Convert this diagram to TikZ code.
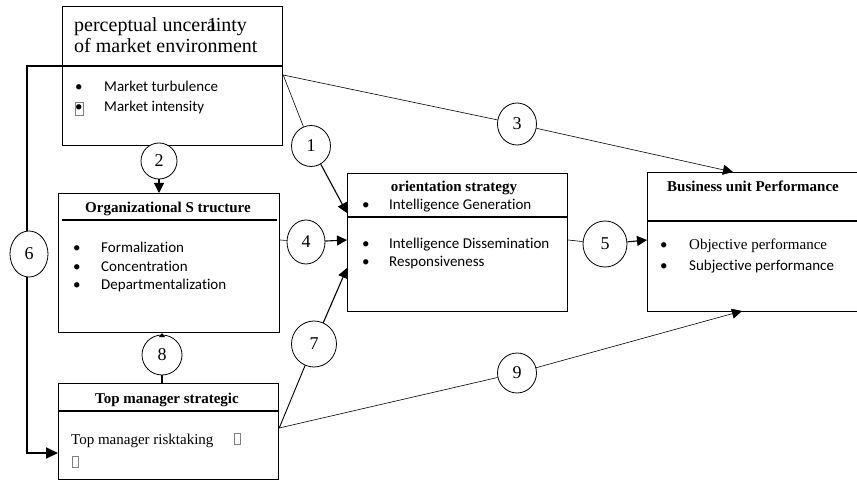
\documentclass[tikz,border=0pt]{standalone}
\usepackage{fontspec}
\setmainfont{Liberation Serif}
\newfontfamily\calfont[Ligatures=NoCommon]{Carlito}
\usetikzlibrary{arrows.meta,shapes.geometric}
\begin{document}
\begin{tikzpicture}[x=1pt,y=-1pt,
  box/.style={draw,line width=1.2pt,anchor=north west,inner sep=0pt},
  num/.style={draw,ellipse,fill=white,line width=0.8pt,inner sep=0pt,font=\fontsize{18}{18}\selectfont},
  txt/.style={anchor=base west,inner sep=0pt,font=\calfont\fontsize{15}{18}\selectfont},
  stxt/.style={anchor=base west,inner sep=0pt,font=\fontsize{15}{18}\selectfont},
  ttl/.style={anchor=base,inner sep=0pt,font=\bfseries\fontsize{15}{18}\selectfont},
  thinline/.style={line width=0.6pt},
  arr/.style={line width=1.1pt,-{Triangle[length=10pt,width=10pt]}},
  thinarr/.style={line width=0.6pt,-{Triangle[length=10pt,width=10pt]}}
]
\useasboundingbox (0,0) rectangle (857,481);
% boxes
\node[box,minimum width=220pt,minimum height=139pt] (A) at (62,6) {};
\node[box,minimum width=221pt,minimum height=139pt] (B) at (58,193) {};
\node[box,minimum width=220pt,minimum height=138pt] (C) at (347,173) {};
\node[box,minimum width=220pt,minimum height=96pt] (D) at (58,383) {};
\node[box,minimum width=260pt,minimum height=139pt] (E) at (647,172) {};
% dividers
\draw[line width=1.2pt] (A.west |- 0,66) -- (A.east |- 0,66);
\draw[line width=1.2pt] (62,220) -- (277,220);
\draw[line width=1.2pt] (C.west |- 0,217) -- (C.east |- 0,217);
\draw[line width=1.2pt] (D.west |- 0,411) -- (D.east |- 0,411);
\draw[line width=1.2pt] (E.west |- 0,221) -- (E.east |- 0,221);
% box A text
\node[anchor=base west,inner sep=0pt,font=\fontsize{20}{22}\selectfont] (At1) at (74,31.5) {perceptual uncer\makebox[0pt][l]{\hspace{0.5pt}1}ainty};
\node[anchor=base west,inner sep=0pt,font=\fontsize{20}{22}\selectfont] (At2) at (74,53) {of market environment};
\node[txt] (Ab1) at (75,92) {•};
\node[txt] (Ai1) at (104,92) {Market turbulence};
\node[txt] (Ab2) at (75,112) {•};
\node[draw,gray,line width=0.5pt,minimum width=8pt,minimum height=13pt,inner sep=0pt] (Abx) at (79,108.5) {};
\node[txt] (Ai2) at (104,112) {Market intensity};
% box B text
\node[ttl] (Bt) at (168,213) {Organizational S tructure};
\node[txt] (Bb1) at (73,253) {•};
\node[txt] (Bi1) at (101,253) {Formalization};
\node[txt] (Bb2) at (73,272) {•};
\node[txt] (Bi2) at (101,272) {Concentration};
\node[txt] (Bb3) at (73,290) {•};
\node[txt] (Bi3) at (101,290) {Departmentalization};
% box C text
\node[ttl] (Ct) at (454,192) {orientation strategy};
\node[txt] (Cb1) at (362,210) {•};
\node[txt] (Ci1) at (389,210) {Intelligence Generation};
\node[txt] (Cb2) at (362,249) {•};
\node[txt] (Ci2) at (389,249) {Intelligence Dissemination};
\node[txt] (Cb3) at (362,267) {•};
\node[txt] (Ci3) at (389,267) {Responsiveness};
% box D text
\node[ttl] (Dt) at (167,403) {Top manager strategic};
\node[stxt] (Di1) at (71,444) {Top manager risktaking};
\node[draw,gray,line width=0.5pt,minimum width=6pt,minimum height=11pt,inner sep=0pt] (Dx1) at (237,439) {};
\node[draw,gray,line width=0.5pt,minimum width=6pt,minimum height=11pt,inner sep=0pt] (Dx2) at (75,462) {};
% box E text
\node[ttl] (Et) at (753,192) {Business unit Performance};
\node[txt] (Eb1) at (660,250) {•};
\node[stxt] (Ei1) at (689,250) {Objective performance};
\node[txt] (Eb2) at (660,270) {•};
\node[txt] (Ei2) at (689,270) {Subjective performance};
% line 6
\coordinate (a6) at (A.west |- 0,66);
\coordinate (d6) at (D.west |- 0,453);
\draw[line width=2pt,-{Triangle[length=12pt,width=11pt]}] (a6) -- (27,66) -- (27,453) -- (d6);
% circles
\node[num,minimum width=39pt,minimum height=41pt] (c1) at (311,146) {1};
\node[num,minimum width=36pt,minimum height=36pt] (c2) at (159,161) {2};
\node[num,minimum width=39pt,minimum height=42pt] (c3) at (517,124) {3};
\node[num,minimum width=38pt,minimum height=44pt] (c4) at (306,242) {4};
\node[num,minimum width=44pt,minimum height=46pt] (c5) at (605,244) {5};
\node[num,minimum width=38pt,minimum height=46pt] (c6) at (29,254) {6};
\node[num,minimum width=45pt,minimum height=46pt] (c7) at (314,344) {7};
\node[num,minimum width=40pt,minimum height=40pt] (c8) at (162,355) {8};
\node[num,minimum width=39pt,minimum height=40pt] (c9) at (517,373) {9};
% connection points
\coordinate (a1) at (A.east |- 0,75);
\coordinate (b4) at (B.east |- 0,240);
\coordinate (d7) at (D.east |- 0,428);
\coordinate (cin1) at (C.west |- 0,213);
\coordinate (cin4) at (C.west |- 0,240);
\coordinate (cin7) at (C.west |- 0,268);
\coordinate (cout5) at (C.east |- 0,240);
\coordinate (ein5) at (E.west |- 0,240);
\coordinate (etop) at (733,172);
\coordinate (ebot) at (742,311);
% connectors
\draw[thinline] (a1) -- (c1);
\draw[arr] (c1) -- (cin1);
\draw[thinline] (a1) -- (c3);
\draw[thinarr] (c3) -- (etop);
\draw[arr] (c2) -- (c2 |- B.north);
\draw[thinline] (b4) -- (c4);
\draw[arr] (c4) -- (cin4);
\draw[thinline] (cout5) -- (c5);
\draw[arr] (c5) -- (ein5);
\draw[line width=0.9pt] (d7) -- (c7);
\draw[arr] (c7) -- (cin7);
\draw[thinline] (d7) -- (c9);
\draw[thinarr] (c9) -- (ebot);
\draw[line width=1.2pt] (c8 |- D.north) -- (c8);
\draw[line width=0.8pt,-{Triangle[length=4pt,width=6pt]}] (c8) -- (c8 |- B.south);
\end{tikzpicture}
\end{document}
